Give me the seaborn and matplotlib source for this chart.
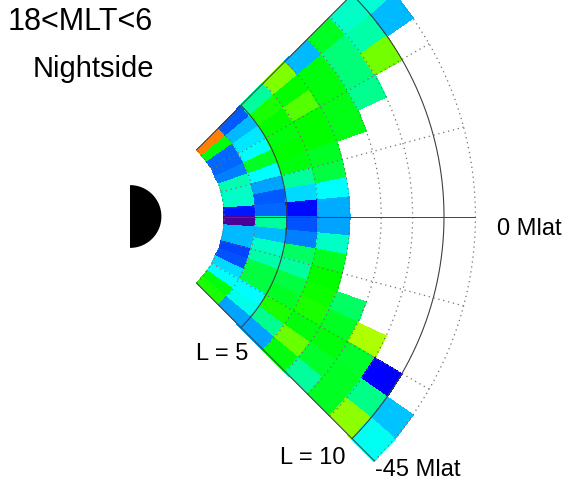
import numpy as np
import matplotlib
matplotlib.use("Agg")
import matplotlib.pyplot as plt
import seaborn as sns
from matplotlib.colors import LinearSegmentedColormap

nan = np.nan

# bin edges: L shells (radial) and magnetic latitude (angle, deg)
L_edges = np.arange(3, 12, 1)
mlat_edges = np.arange(45, -46, -5)   # top (+45) to bottom (-45)

# cell values for each L bin, ordered from Mlat +42.5 down to -42.5
L3 = [0.89, 0.55, 0.20, 0.20, 0.22, 0.40, 0.38, 0.38, 0.13, 0.00, 0.27, 0.27, 0.17, 0.18, 0.30, 0.33, 0.55, 0.58]
L4 = [0.19, 0.27, 0.31, 0.33, 0.53, 0.33, 0.25, 0.19, 0.20, 0.42, 0.27, 0.38, 0.41, 0.50, 0.50, 0.33, 0.35, 0.25]
L5 = [0.42, 0.58, 0.56, 0.55, 0.56, 0.55, 0.42, 0.30, 0.12, 0.18, 0.22, 0.47, 0.42, 0.50, 0.53, 0.58, 0.43, 0.25]
L6 = [0.67, 0.56, 0.63, 0.56, 0.56, 0.53, 0.50, 0.33, 0.26, 0.25, 0.38, 0.53, 0.56, 0.57, 0.58, 0.55, 0.65, 0.55]
L7 = [0.27, 0.55, 0.55, 0.54, 0.54] + [nan] * 8 + [0.47, 0.53, 0.55, 0.52, 0.42]
L8 = [0.53, 0.45, 0.45, 0.43] + [nan] * 10 + [0.71, 0.52, 0.53, 0.53]
L9 = [0.38, 0.41, 0.66] + [nan] * 12 + [0.11, 0.44, 0.68]
L10 = [0.37, 0.27] + [nan] * 14 + [0.28, 0.34]

solid_L = [5, 10]
dotted_L = [3, 4, 6, 7, 8, 9, 11]
dotted_spokes = [-30, -15, 15, 30]
edge_spokes = [-45, 0, 45]
earth_radius = 1

sns.set_theme(style="white")
plt.rcParams["font.family"] = ["Liberation Sans", "DejaVu Sans"]
plt.rcParams["text.color"] = "black"

cmap = LinearSegmentedColormap.from_list(
    "mlt", [(0.0, "#4b0096"), (0.11, "#0000ff"), (0.33, "#00ffff"),
            (0.56, "#00ff00"), (0.78, "#ffff00"), (1.0, "#ff0000")])

values = np.ma.masked_invalid(np.array([L3, L4, L5, L6, L7, L8, L9, L10]).T)
R, TH = np.meshgrid(L_edges, np.deg2rad(mlat_edges))
X = R * np.cos(TH)
Y = R * np.sin(TH)

fig = plt.figure(figsize=(5.64, 4.85), dpi=100)
ax = fig.add_axes([0, 0, 1, 1])
scale = 31.4
ax.set_xlim(-130 / scale, (564 - 130) / scale)
ax.set_ylim(-(485 - 217.5) / scale, 217.5 / scale)
ax.axis("off")

ax.pcolormesh(X, Y, values, cmap=cmap, vmin=0, vmax=1, shading="flat",
              edgecolors="face", linewidth=0.2)

t = np.deg2rad(np.linspace(-45, 45, 300))
for L in dotted_L:
    ax.plot(L * np.cos(t), L * np.sin(t), color="#707070", lw=0.9,
            linestyle=(0, (1, 3)))
for L in solid_L:
    ax.plot(L * np.cos(t), L * np.sin(t), color="#404040", lw=0.8)
for a in dotted_spokes:
    a = np.deg2rad(a)
    ax.plot([3 * np.cos(a), 11 * np.cos(a)], [3 * np.sin(a), 11 * np.sin(a)],
            color="#707070", lw=0.9, linestyle=(0, (1, 3)))
for a in edge_spokes:
    a = np.deg2rad(a)
    ax.plot([3 * np.cos(a), 11 * np.cos(a)], [3 * np.sin(a), 11 * np.sin(a)],
            color="#404040", lw=0.7)

# Earth, night half drawn black
te = np.deg2rad(np.linspace(-90, 90, 100))
ax.fill(earth_radius * np.cos(te), earth_radius * np.sin(te), color="black", lw=0)

ax.text(11.69, -0.36, "0 Mlat", fontsize=17, ha="left", va="center", color="black")
ax.text(7.80, -8.04, "-45 Mlat", fontsize=17, ha="left", va="center", color="black")
ax.text(2.10, -4.36, "L = 5", fontsize=17, ha="left", va="center", color="black")
ax.text(4.78, -7.66, "L = 10", fontsize=17, ha="left", va="center", color="black")

fig.text(8 / 564, 1 - 22 / 485, "18<MLT<6", fontsize=22, ha="left", va="center", color="black")
fig.text(33 / 564, 1 - 69 / 485, "Nightside", fontsize=21, ha="left", va="center", color="black")

fig.savefig("out.png", dpi=100)
